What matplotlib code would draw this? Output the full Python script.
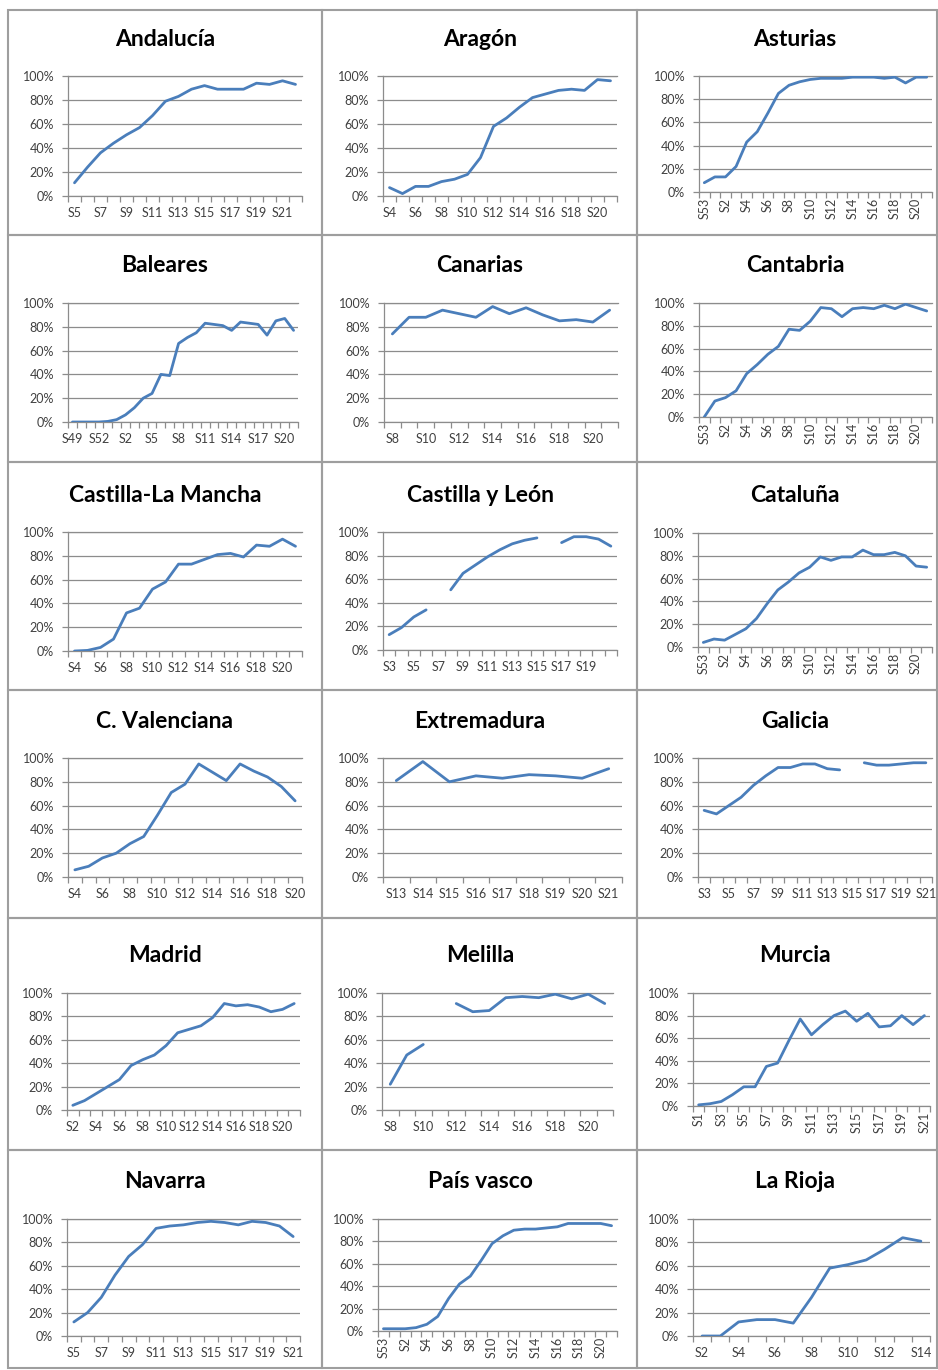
import numpy as np
import matplotlib.pyplot as plt
from matplotlib.patches import Rectangle

# figure size in pixels (dpi 100)
W, H = 938, 1370

plt.rcParams['font.family'] = ['Lato', 'DejaVu Sans']

nan = np.nan

# ---------------------------------------------------------
# Data: weekly percentages per region
# ---------------------------------------------------------
andalucia_weeks = [f"S{w}" for w in range(5, 23)]
andalucia = [11, 24, 36, 44, 51, 57, 67, 79, 83, 89, 92, 89, 89, 89, 94, 93, 96, 93]

aragon_weeks = [f"S{w}" for w in range(4, 22)]
aragon = [7, 2, 8, 8, 12, 14, 18, 32, 58, 65, 74, 82, 85, 88, 89, 88, 97, 96]

asturias_weeks = ["S53"] + [f"S{w}" for w in range(1, 22)]
asturias = [8, 13, 13, 22, 43, 52, 68, 85, 92, 95, 97, 98, 98, 98, 99, 99, 99, 98, 99, 94, 99, 99]

baleares_weeks = [f"S{w}" for w in range(49, 54)] + [f"S{w}" for w in range(1, 22)]
baleares = [0, 0, 0, 0, 0.5, 2, 6, 12, 20, 24, 40, 39, 66, 71, 75, 83, 82, 81, 77, 84, 83, 82, 73, 85, 87, 77]

canarias_weeks = [f"S{w}" for w in range(8, 22)]
canarias = [74, 88, 88, 94, 91, 88, 97, 91, 96, 90, 85, 86, 84, 94]

cantabria_weeks = ["S53"] + [f"S{w}" for w in range(1, 22)]
cantabria = [0, 14, 17, 23, 38, 46, 55, 62, 77, 76, 84, 96, 95, 88, 95, 96, 95, 98, 95, 99, 96, 93]

clm_weeks = [f"S{w}" for w in range(4, 22)]
clm = [0, 0.5, 3, 10, 32, 36, 52, 58, 73, 73, 77, 81, 82, 79, 89, 88, 94, 88]

cyl_weeks = [f"S{w}" for w in range(3, 22)]
cyl = [13, 19, 28, 34, nan, 51, 65, 72, 79, 85, 90, 93, 95, nan, 91, 96, 96, 94, 88]

cataluna_weeks = ["S53"] + [f"S{w}" for w in range(1, 22)]
cataluna = [4, 7, 6, 11, 16, 25, 38, 50, 57, 65, 70, 79, 76, 79, 79, 85, 81, 81, 83, 80, 71, 70]

cval_weeks = [f"S{w}" for w in range(4, 21)]
cval = [6, 9, 16, 20, 28, 34, 52, 71, 78, 95, 88, 81, 95, 89, 84, 76, 64]

extremadura_weeks = [f"S{w}" for w in range(13, 22)]
extremadura = [81, 97, 80, 85, 83, 86, 85, 83, 91]

galicia_weeks = [f"S{w}" for w in range(3, 22)]
galicia = [56, 53, 60, 67, 77, 85, 92, 92, 95, 95, 91, 90, nan, 96, 94, 94, 95, 96, 96]

madrid_weeks = [f"S{w}" for w in range(2, 22)]
madrid = [4, 8, 14, 20, 26, 38, 43, 47, 55, 66, 69, 72, 79, 91, 89, 90, 88, 84, 86, 91]

melilla_weeks = [f"S{w}" for w in range(8, 22)]
melilla = [22, 47, 56, nan, 91, 84, 85, 96, 97, 96, 99, 95, 99, 91]

murcia_weeks = [f"S{w}" for w in range(1, 22)]
murcia = [1, 2, 4, 10, 17, 17, 35, 38, 58, 77, 63, 72, 80, 84, 75, 82, 70, 71, 80, 72, 80]

navarra_weeks = [f"S{w}" for w in range(5, 22)]
navarra = [12, 20, 33, 52, 68, 78, 92, 94, 95, 97, 98, 97, 95, 98, 97, 94, 85]

paisvasco_weeks = ["S53"] + [f"S{w}" for w in range(1, 22)]
paisvasco = [2, 2, 2, 3, 6, 13, 29, 42, 49, 63, 78, 85, 90, 91, 91, 92, 93, 96, 96, 96, 96, 94]

rioja_weeks = [f"S{w}" for w in range(2, 15)]
rioja = [0, 0, 12, 14, 14, 11, 33, 58, 61, 65, 74, 84, 81]

# ---------------------------------------------------------
# Layout: (title, weeks, values, label step, rotated labels,
#          label last category, axes box in px: left, top, right, bottom)
# ---------------------------------------------------------
panels = [
    ("Andalucía", andalucia_weeks, andalucia, 2, False, True, (68, 76, 302, 196)),
    ("Aragón", aragon_weeks, aragon, 2, False, True, (383, 76, 617, 196)),
    ("Asturias", asturias_weeks, asturias, 2, True, True, (699, 76, 932, 192)),
    ("Baleares", baleares_weeks, baleares, 3, False, True, (68, 303, 298, 422)),
    ("Canarias", canarias_weeks, canarias, 2, False, True, (384, 303, 618, 422)),
    ("Cantabria", cantabria_weeks, cantabria, 2, True, True, (699, 303, 932, 417)),
    ("Castilla-La Mancha", clm_weeks, clm, 2, False, True, (68, 532, 302, 651)),
    ("Castilla y León", cyl_weeks, cyl, 2, False, False, (383, 532, 617, 650)),
    ("Cataluña", cataluna_weeks, cataluna, 2, True, True, (698, 533, 932, 647)),
    ("C. Valenciana", cval_weeks, cval, 2, False, True, (68, 758, 302, 877)),
    ("Extremadura", extremadura_weeks, extremadura, 1, False, True, (383, 758, 622, 877)),
    ("Galicia", galicia_weeks, galicia, 2, False, True, (698, 758, 932, 877)),
    ("Madrid", madrid_weeks, madrid, 2, False, True, (67, 993, 300, 1110)),
    ("Melilla", melilla_weeks, melilla, 2, False, True, (382, 993, 613, 1110)),
    ("Murcia", murcia_weeks, murcia, 2, True, True, (693, 993, 930, 1106)),
    ("Navarra", navarra_weeks, navarra, 2, False, True, (67, 1219, 300, 1336)),
    ("País vasco", paisvasco_weeks, paisvasco, 2, True, True, (378, 1219, 617, 1331)),
    ("La Rioja", rioja_weeks, rioja, 2, False, True, (693, 1219, 930, 1336)),
]

cols = [(8, 322), (322, 637), (637, 937)]
rows = [(10, 235), (235, 462), (462, 690), (690, 918), (918, 1150), (1150, 1368)]
title_x = [165, 480, 795]
title_y = [40, 266, 495, 722, 955, 1182]

LINE = "#4A7EBB"
GRID = "#8C8C8C"
TEXT = "#404040"

fig = plt.figure(figsize=(W / 100, H / 100), dpi=100)
fig.patch.set_facecolor("white")

for k, (title, weeks, values, step, rotate, label_last, box) in enumerate(panels):
    r, c = divmod(k, 3)

    # chart border
    x0, x1 = cols[c]
    y0, y1 = rows[r]
    fig.add_artist(Rectangle(
        (x0 / W, 1 - y1 / H), (x1 - x0) / W, (y1 - y0) / H,
        transform=fig.transFigure, fill=False, edgecolor="#9E9E9E", lw=1.5
    ))

    fig.text(title_x[c] / W, 1 - title_y[r] / H, title,
             ha="center", va="center", fontsize=16.5, fontweight="bold",
             color="black")

    left, top, right, bottom = box
    ax = fig.add_axes([left / W, 1 - bottom / H, (right - left) / W, (bottom - top) / H])

    n = len(weeks)
    x = np.arange(n)
    ax.plot(x, np.array(values, dtype=float), color=LINE, lw=2.0,
            solid_capstyle="round", solid_joinstyle="round", zorder=3)

    ax.set_xlim(-0.5, n - 0.5)
    ax.set_ylim(0, 100)
    ax.set_yticks(range(0, 101, 20))
    ax.set_yticklabels([f"{v}%" for v in range(0, 101, 20)])
    ax.yaxis.grid(True, color=GRID, lw=0.9)
    ax.set_axisbelow(True)

    # Excel style category axis: ticks between categories, labels at centres
    ax.set_xticks(np.arange(n + 1) - 0.5)
    ax.set_xticklabels([])
    idx = list(range(0, n if label_last else n - 1, step))
    ax.set_xticks(idx, minor=True)
    ax.set_xticklabels([weeks[i] for i in idx], minor=True,
                       rotation=90 if rotate else 0)

    ax.tick_params(axis="x", which="major", length=4, width=0.9, color=GRID)
    ax.tick_params(axis="x", which="minor", length=0, pad=4 if rotate else 8,
                   labelsize=9, labelcolor=TEXT)
    ax.tick_params(axis="y", length=4, width=0.9, color=GRID,
                   labelsize=9, labelcolor=TEXT, pad=6)

    ax.spines["right"].set_visible(False)
    for side in ["left", "bottom", "top"]:
        ax.spines[side].set_color(GRID)
        ax.spines[side].set_linewidth(0.9)

fig.savefig("out.png", dpi=100, facecolor="white")
